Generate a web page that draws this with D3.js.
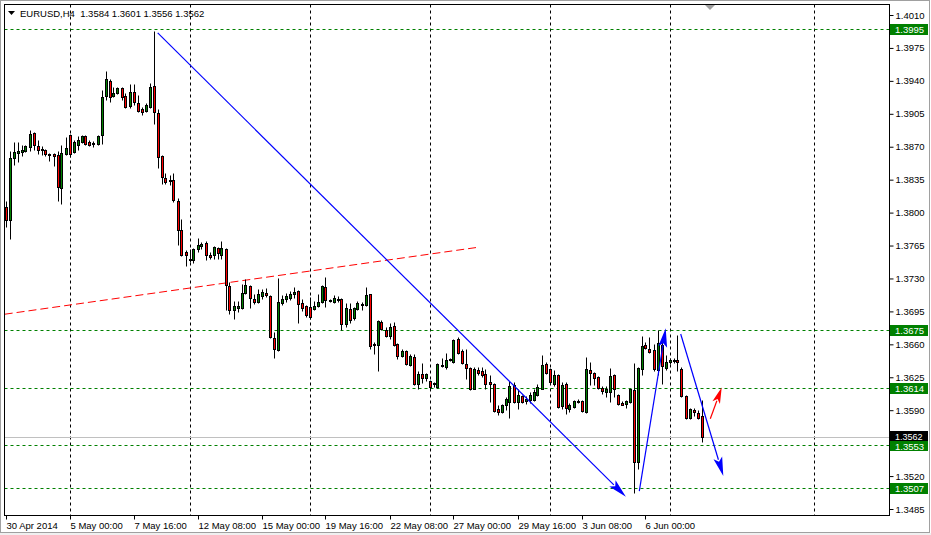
<!DOCTYPE html>
<html><head><meta charset="utf-8">
<script src="https://cdn.jsdelivr.net/npm/d3@7"></script>
<style>
html,body{margin:0;padding:0;background:#fff;overflow:hidden}
svg{display:block;font-family:"Liberation Sans",Arial,sans-serif}
</style>
</head><body>
<svg id="chart" width="931" height="535"></svg>
<script>
// ---------------- DATA ----------------
const symbol = "EURUSD,H4";
const headerValues = ["1.3584", "1.3601", "1.3556", "1.3562"];

const open = [
1.3806,1.3792,1.3858,1.3863,1.3864,1.3865,1.3870,1.3885,1.3871,1.3868,
1.3867,1.3862,1.3862,1.3861,1.3826,1.3862,1.3883,1.3864,1.3872,1.3875,
1.3881,1.3875,1.3873,1.3873,1.3882,1.3924,1.3940,1.3924,1.3927,1.3932,
1.3924,1.3913,1.3928,1.3917,1.3910,1.3908,1.3912,1.3935,1.3906,1.3860,
1.3837,1.3835,1.3835,1.3812,1.3782,1.3758,1.3751,1.3750,1.3761,1.3764,
1.3768,1.3755,1.3755,1.3762,1.3755,1.3761,1.3722,1.3697,1.3699,1.3699,
1.3715,1.3722,1.3708,1.3705,1.3711,1.3715,1.3711,1.3667,1.3654,1.3704,
1.3708,1.3709,1.3713,1.3717,1.3704,1.3701,1.3700,1.3698,1.3701,1.3705,
1.3721,1.3707,1.3705,1.3708,1.3708,1.3682,1.3698,1.3688,1.3698,1.3702,
1.3702,1.3713,1.3660,1.3659,1.3684,1.3675,1.3669,1.3679,1.3660,1.3648,
1.3653,1.3638,1.3647,1.3618,1.3629,1.3624,1.3621,1.3619,1.3615,1.3637,
1.3636,1.3643,1.3641,1.3666,1.3653,1.3639,1.3635,1.3613,1.3633,1.3632,
1.3629,1.3620,1.3618,1.3591,1.3588,1.3596,1.3599,1.3617,1.3599,1.3605,
1.3600,1.3601,1.3601,1.3606,1.3613,1.3639,1.3634,1.3618,1.3627,1.3594,
1.3618,1.3591,1.3593,1.3599,1.3600,1.3588,1.3633,1.3630,1.3625,1.3614,
1.3609,1.3609,1.3627,1.3606,1.3598,1.3597,1.3599,1.3611,1.3535,1.3634,
1.3659,1.3655,1.3654,1.3633,1.3659,1.3635,1.3641,1.3642,1.3643,1.3634,
1.3605,1.3582,1.3590,1.3587,1.3584];

const high = [
1.3812,1.3865,1.3875,1.3875,1.3872,1.3872,1.3888,1.3886,1.3877,1.3871,
1.3868,1.3863,1.3863,1.3865,1.3872,1.3880,1.3884,1.3877,1.3881,1.3882,
1.3883,1.3877,1.3876,1.3882,1.3930,1.3950,1.3942,1.3933,1.3934,1.3933,
1.3927,1.3937,1.3937,1.3925,1.3912,1.3917,1.3938,1.3993,1.3910,1.3861,
1.3842,1.3840,1.3842,1.3816,1.3793,1.3760,1.3761,1.3762,1.3773,1.3769,
1.3770,1.3758,1.3764,1.3763,1.3770,1.3762,1.3726,1.3706,1.3706,1.3724,
1.3729,1.3723,1.3714,1.3719,1.3719,1.3720,1.3712,1.3673,1.3730,1.3712,
1.3715,1.3717,1.3721,1.3718,1.3708,1.3702,1.3710,1.3706,1.3714,1.3723,
1.3732,1.3708,1.3712,1.3711,1.3709,1.3704,1.3704,1.3700,1.3706,1.3705,
1.3721,1.3714,1.3662,1.3686,1.3686,1.3678,1.3683,1.3684,1.3661,1.3655,
1.3654,1.3650,1.3650,1.3632,1.3640,1.3630,1.3622,1.3620,1.3640,1.3646,
1.3651,1.3646,1.3666,1.3668,1.3655,1.3655,1.3636,1.3636,1.3636,1.3636,
1.3634,1.3627,1.3619,1.3595,1.3597,1.3604,1.3621,1.3620,1.3613,1.3606,
1.3605,1.3609,1.3613,1.3618,1.3649,1.3641,1.3635,1.3633,1.3628,1.3620,
1.3620,1.3598,1.3601,1.3602,1.3601,1.3647,1.3641,1.3631,1.3626,1.3616,
1.3616,1.3635,1.3628,1.3607,1.3600,1.3601,1.3613,1.3640,1.3636,1.3669,
1.3663,1.3668,1.3660,1.3675,1.3664,1.3649,1.3645,1.3645,1.3670,1.3636,
1.3606,1.3592,1.3592,1.3590,1.3601];

const low = [
1.3785,1.3772,1.3851,1.3854,1.3860,1.3864,1.3865,1.3866,1.3862,1.3861,
1.3860,1.3855,1.3850,1.3812,1.3809,1.3861,1.3859,1.3863,1.3867,1.3874,
1.3872,1.3871,1.3870,1.3872,1.3873,1.3920,1.3918,1.3923,1.3926,1.3920,
1.3911,1.3911,1.3914,1.3907,1.3904,1.3907,1.3911,1.3894,1.3847,1.3830,
1.3830,1.3829,1.3811,1.3766,1.3754,1.3743,1.3747,1.3746,1.3758,1.3761,
1.3750,1.3751,1.3751,1.3751,1.3751,1.3696,1.3692,1.3687,1.3694,1.3698,
1.3714,1.3699,1.3703,1.3704,1.3708,1.3710,1.3667,1.3646,1.3653,1.3702,
1.3705,1.3707,1.3709,1.3683,1.3695,1.3689,1.3687,1.3697,1.3700,1.3704,
1.3700,1.3705,1.3704,1.3705,1.3675,1.3678,1.3683,1.3686,1.3697,1.3697,
1.3701,1.3655,1.3650,1.3632,1.3675,1.3668,1.3666,1.3658,1.3644,1.3647,
1.3638,1.3637,1.3617,1.3613,1.3619,1.3621,1.3611,1.3615,1.3614,1.3636,
1.3634,1.3642,1.3640,1.3650,1.3639,1.3623,1.3611,1.3612,1.3627,1.3625,
1.3613,1.3599,1.3588,1.3585,1.3587,1.3590,1.3582,1.3598,1.3591,1.3598,
1.3597,1.3598,1.3600,1.3605,1.3612,1.3628,1.3618,1.3616,1.3592,1.3591,
1.3586,1.3588,1.3592,1.3598,1.3588,1.3587,1.3617,1.3617,1.3613,1.3607,
1.3604,1.3599,1.3604,1.3596,1.3595,1.3592,1.3598,1.3502,1.3527,1.3627,
1.3655,1.3651,1.3632,1.3627,1.3618,1.3633,1.3639,1.3640,1.3632,1.3604,
1.3581,1.3581,1.3584,1.3581,1.3556];

const close = [
1.3792,1.3858,1.3864,1.3865,1.3867,1.3871,1.3884,1.3872,1.3866,1.3866,
1.3862,1.3861,1.3860,1.3827,1.3863,1.3869,1.3862,1.3875,1.3877,1.3881,
1.3873,1.3872,1.3874,1.3881,1.3923,1.3942,1.3923,1.3927,1.3932,1.3923,
1.3912,1.3928,1.3918,1.3908,1.3907,1.3914,1.3934,1.3907,1.3859,1.3838,
1.3833,1.3834,1.3813,1.3782,1.3755,1.3755,1.3750,1.3761,1.3766,1.3767,
1.3755,1.3753,1.3763,1.3757,1.3762,1.3723,1.3696,1.3701,1.3701,1.3715,
1.3723,1.3709,1.3705,1.3713,1.3716,1.3712,1.3668,1.3655,1.3705,1.3708,
1.3711,1.3713,1.3716,1.3703,1.3699,1.3691,1.3689,1.3701,1.3705,1.3722,
1.3707,1.3706,1.3709,1.3707,1.3682,1.3699,1.3686,1.3699,1.3704,1.3703,
1.3712,1.3658,1.3659,1.3685,1.3676,1.3669,1.3678,1.3659,1.3648,1.3653,
1.3639,1.3648,1.3618,1.3628,1.3624,1.3629,1.3615,1.3618,1.3639,1.3638,
1.3643,1.3644,1.3665,1.3651,1.3640,1.3635,1.3613,1.3634,1.3630,1.3627,
1.3618,1.3618,1.3589,1.3588,1.3596,1.3602,1.3616,1.3599,1.3606,1.3599,
1.3602,1.3606,1.3609,1.3615,1.3638,1.3630,1.3620,1.3627,1.3593,1.3617,
1.3592,1.3595,1.3600,1.3600,1.3589,1.3634,1.3630,1.3624,1.3614,1.3610,
1.3613,1.3626,1.3613,1.3597,1.3596,1.3600,1.3612,1.3535,1.3635,1.3658,
1.3656,1.3652,1.3634,1.3661,1.3637,1.3641,1.3643,1.3643,1.3641,1.3605,
1.3582,1.3591,1.3588,1.3582,1.3562];

const timeLabels = ["30 Apr 2014","5 May 00:00","7 May 16:00","12 May 08:00","15 May 00:00",
  "19 May 16:00","22 May 08:00","27 May 00:00","29 May 16:00","3 Jun 08:00","6 Jun 00:00"];
const timeLabelBars = [0,16,32,48,64,80,96,112,128,144,160];
const gridBars = [16,46,76,106,136,166,202];

// 1.3555 is hidden behind the price labels in the reference
const priceTicks = [1.3485,1.3520,1.3590,1.3625,1.3660,1.3695,1.3730,
  1.3765,1.3800,1.3835,1.3870,1.3905,1.3940,1.3975,1.4010];
const levels = [1.3995,1.3675,1.3614,1.3553,1.3507];
const lastPrice = 1.3562;

// trend objects: bar index / price anchors
const redDashed = {b1:-0.2, p1:1.3692, b2:117.9, p2:1.3763};
const blueArrows = [
  {b1:38.05, p1:1.3991, b2:155.1, p2:1.3498},
  {b1:158.45, p1:1.3504, b2:165.05, p2:1.3677},
  {b1:168.8, p1:1.3671, b2:179.45, p2:1.3520}
];
const redArrow = {b1:176.2, p1:1.3581, b2:179.05, p2:1.3614};

// ---------------- DRAW ----------------
const svg = d3.select("#chart");
const L = 4.5, T = 4.5, R = 889.5, B = 515.5;

const x = d3.scaleLinear().domain([0, 221]).range([5.5, 889.5]);
const y = d3.scaleLinear().domain([1.3485, 1.4010]).range([509, 15]);

// outer frame
svg.append("rect").attr("x",0).attr("y",0).attr("width",931).attr("height",535).attr("fill","#fff");
svg.append("rect").attr("x",0).attr("y",533).attr("width",931).attr("height",2).attr("fill","#f0f0f0");
svg.append("rect").attr("x",0.5).attr("y",0.5).attr("width",929).attr("height",532)
  .attr("fill","none").attr("stroke","#a0a0a0");

svg.append("clipPath").attr("id","plotclip").append("rect")
  .attr("x",L).attr("y",T).attr("width",R-L).attr("height",B-T);
const plot = svg.append("g").attr("clip-path","url(#plotclip)");

// vertical grid
plot.selectAll("line.vgrid").data(gridBars).join("line")
  .attr("x1",d=>Math.round(x(d))+0.5).attr("x2",d=>Math.round(x(d))+0.5)
  .attr("y1",T).attr("y2",B)
  .attr("stroke","#000").attr("stroke-dasharray","3,3").attr("stroke-width",1);

// green horizontal levels
plot.selectAll("line.lvl").data(levels).join("line")
  .attr("x1",L).attr("x2",R)
  .attr("y1",d=>Math.round(y(d))+0.5).attr("y2",d=>Math.round(y(d))+0.5)
  .attr("stroke","#008000").attr("stroke-dasharray","3,3");

// current price line
plot.append("line").attr("x1",L).attr("x2",R)
  .attr("y1",Math.round(y(lastPrice))+0.5).attr("y2",Math.round(y(lastPrice))+0.5)
  .attr("stroke","#c0c0c0");

// red dashed trend line
plot.append("line")
  .attr("x1",x(redDashed.b1)).attr("y1",y(redDashed.p1))
  .attr("x2",x(redDashed.b2)).attr("y2",y(redDashed.p2))
  .attr("stroke","#ff0000").attr("stroke-dasharray","8,4");

// candles
const idx = d3.range(open.length);
const cg = plot.append("g");
const cx = i => Math.round(x(i)) + 0.5;
const py = p => Math.round(y(p)) + 0.5;
cg.selectAll("line.wick").data(idx).join("line")
  .attr("x1",cx).attr("x2",cx)
  .attr("y1",i=>py(high[i])).attr("y2",i=>py(low[i]) )
  .attr("stroke","#000");
cg.selectAll("rect.body").data(idx).join("rect")
  .attr("x",i=>cx(i)-1).attr("width",2)
  .attr("y",i=>py(Math.max(open[i],close[i])))
  .attr("height",i=>py(Math.min(open[i],close[i])) - py(Math.max(open[i],close[i])))
  .attr("fill",i=>close[i]>open[i] ? "#008000" : (close[i]<open[i] ? "#ff0000" : "#000"))
  .attr("stroke","#000");

// arrows
function arrow(g, o, color, len, hw){
  const x1=x(o.b1), y1=y(o.p1), x2=x(o.b2), y2=y(o.p2);
  const dx=x2-x1, dy=y2-y1, d=Math.hypot(dx,dy), ux=dx/d, uy=dy/d;
  const bx=x2-ux*len, by=y2-uy*len, nx=-uy, ny=ux;
  g.append("line").attr("x1",x1).attr("y1",y1).attr("x2",bx+ux*2).attr("y2",by+uy*2)
    .attr("stroke",color).attr("stroke-width",1.2);
  g.append("path").attr("d",`M${x2},${y2}L${bx+nx*hw},${by+ny*hw}L${bx+ux*4},${by+uy*4}L${bx-nx*hw},${by-ny*hw}Z`)
    .attr("fill",color);
}
blueArrows.forEach(a=>arrow(plot,a,"#0000ff",19,4.5));
arrow(plot,redArrow,"#ff0000",16,4);

// chart shift marker
svg.append("path").attr("d","M704,4L716,4L710,10Z").attr("fill","#a0a0a0");

// frame
svg.append("rect").attr("x",L).attr("y",T).attr("width",R-L).attr("height",B-T)
  .attr("fill","none").attr("stroke","#000");

// price axis
const ya = svg.append("g").attr("transform",`translate(${R},0)`)
  .call(d3.axisRight(y).tickValues(priceTicks).tickFormat(d3.format(".4f")).tickSize(4).tickPadding(2));
ya.select(".domain").remove();
ya.selectAll(".tick line").attr("stroke","#000");
ya.selectAll(".tick text").attr("font-size","9.5px").attr("fill","#000")
  .attr("font-family","'Liberation Sans',Arial,sans-serif");

// level labels
const labG = svg.append("g");
levels.forEach(v=>{
  const yy = Math.round(y(v));
  const base = (v === 1.3553) ? yy+4.5 : yy+4;
  labG.append("rect").attr("x",890).attr("y",yy-5).attr("width",38).attr("height",11).attr("fill","#008000");
  labG.append("text").attr("x",895).attr("y",base).attr("fill","#fff").attr("font-size","9.5px")
    .text(d3.format(".4f")(v));
});
{
  const yy = Math.round(y(lastPrice));
  labG.append("rect").attr("x",890).attr("y",yy-6).attr("width",38).attr("height",10).attr("fill","#000");
  labG.append("text").attr("x",895).attr("y",yy+2.5).attr("fill","#fff").attr("font-size","9px")
    .text(d3.format(".4f")(lastPrice));
}

// time axis
const xa = svg.append("g").attr("transform",`translate(0,${B})`)
  .call(d3.axisBottom(x).tickValues(timeLabelBars).tickFormat((d,i)=>timeLabels[i]).tickSize(4));
xa.select(".domain").remove();
xa.selectAll(".tick").attr("transform",d=>`translate(${cx(d)},0)`);
xa.selectAll(".tick line").attr("stroke","#000");
xa.selectAll(".tick text").attr("text-anchor","start").attr("x",0).attr("y",6.5)
  .attr("font-size","9.5px").attr("fill","#000").attr("font-family","'Liberation Sans',Arial,sans-serif");

// header
svg.append("path").attr("d","M8,11L15,11L11.5,15Z").attr("fill","#000");
svg.append("text").attr("x",20).attr("y",16.5).attr("font-size","9.5px").attr("fill","#000")
  .attr("xml:space","preserve")
  .text(symbol + "  " + headerValues.join(" "));
</script>
</body></html>
